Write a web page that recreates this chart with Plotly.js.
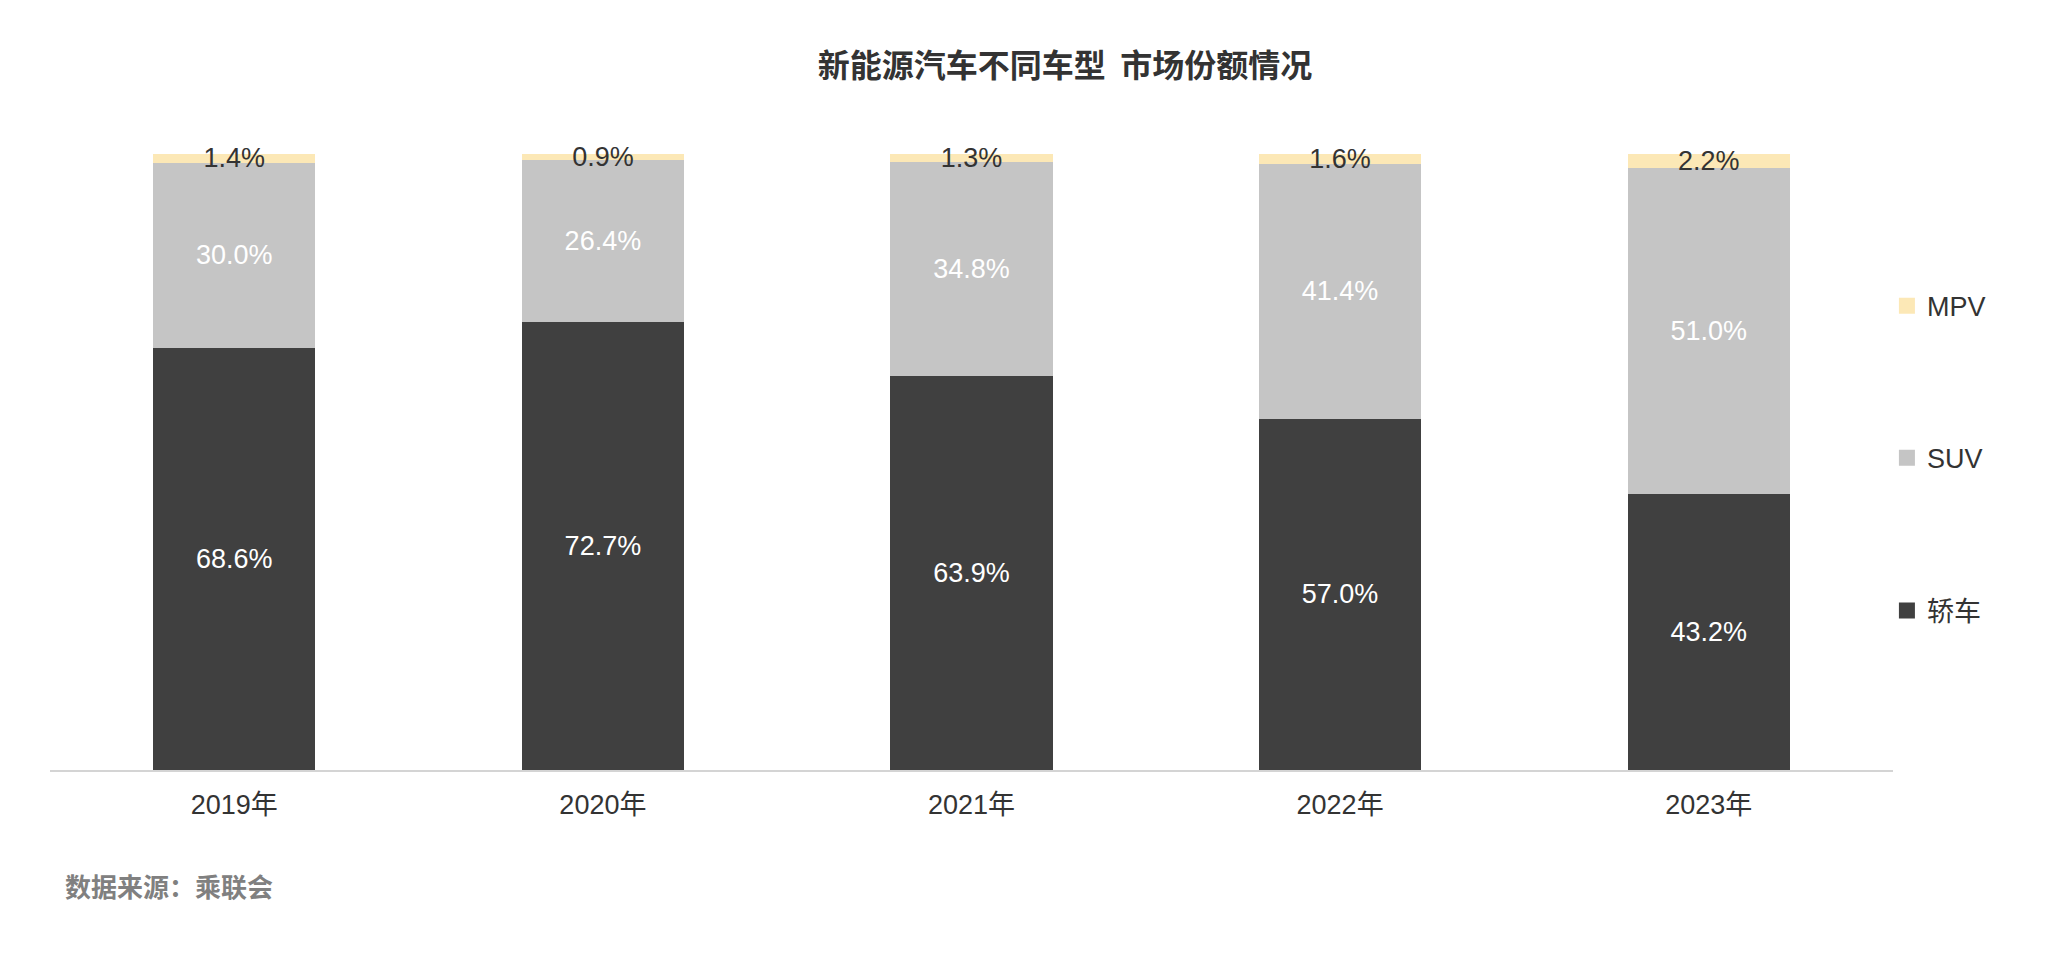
<!DOCTYPE html>
<html>
<head>
<meta charset="utf-8">
<script src="https://cdn.plot.ly/plotly-3.0.1.min.js"></script>
<style>html,body{margin:0;padding:0;background:#fff;}#chart{width:2048px;height:964px;}</style>
</head>
<body>
<div id="chart"></div>
<script>
const categories = ['2019年', '2020年', '2021年', '2022年', '2023年'];
const sedan = [68.6, 72.7, 63.9, 57.0, 43.2];
const suv = [30.0, 26.4, 34.8, 41.4, 51.0];
const mpv = [1.4, 0.9, 1.3, 1.6, 2.2];
const seriesNames = ['轿车', 'SUV', 'MPV'];

const FONT = '"Liberation Sans", Arial, "Noto Sans CJK SC", sans-serif';
const pct = arr => arr.map(v => v.toFixed(1) + '%');

function barTrace(name, vals, color, textColor, legendId) {
  return {
    type: 'bar', name: name, x: categories, y: vals,
    marker: {color: color, line: {width: 0}},
    text: pct(vals), texttemplate: '%{text}',
    textposition: 'inside', insidetextanchor: 'middle',
    constraintext: 'none', textangle: 0, cliponaxis: false,
    textfont: {family: FONT, size: 27, color: textColor},
    hoverinfo: 'skip', showlegend: false, legend: legendId
  };
}
function legendTrace(name, color, legendId) {
  return {
    type: 'scatter', mode: 'markers', name: name, x: [null], y: [null],
    marker: {symbol: 'square', size: 17, color: color},
    showlegend: true, legend: legendId, hoverinfo: 'skip'
  };
}

const colors = ['#404040', '#c5c5c5', '#fce8b6'];
const data = [
  barTrace(seriesNames[0], sedan, colors[0], '#ffffff', 'legend3'),
  barTrace(seriesNames[1], suv, colors[1], '#ffffff', 'legend2'),
  barTrace(seriesNames[2], mpv, colors[2], '#333333', 'legend'),
  legendTrace(seriesNames[2], colors[2], 'legend'),
  legendTrace(seriesNames[1], colors[1], 'legend2'),
  legendTrace(seriesNames[0], colors[0], 'legend3')
];

const legendBase = {
  x: 0.9967, xanchor: 'left', yanchor: 'middle',
  font: {family: FONT, size: 27, color: '#333333'},
  bgcolor: 'rgba(0,0,0,0)', itemwidth: 30
};

const layout = {
  width: 2048, height: 964,
  paper_bgcolor: '#ffffff', plot_bgcolor: '#ffffff',
  margin: {l: 50, r: 155, t: 154, b: 194, pad: 0},
  barmode: 'stack', barnorm: 'percent', bargap: 0.56,
  font: {family: FONT, color: '#333333'},
  title: {
    text: '<b>新能源汽车不同车型  市场份额情况</b>',
    font: {family: '"Noto Sans CJK SC", sans-serif', size: 32, color: '#333333'},
    xref: 'container', yref: 'container',
    x: 1065 / 2048, xanchor: 'center', y: 1 - 66 / 964, yanchor: 'middle'
  },
  xaxis: {
    type: 'category', showgrid: false, zeroline: false,
    showline: true, linecolor: '#d4d4d4', linewidth: 2,
    ticks: '', ticklabelstandoff: 10,
    tickfont: {family: FONT, size: 27, color: '#333333'},
    fixedrange: true
  },
  yaxis: {
    range: [0, 100.02], visible: false, showgrid: false, zeroline: false, fixedrange: true
  },
  showlegend: true,
  legend: Object.assign({}, legendBase, {y: 0.753}),
  legend2: Object.assign({}, legendBase, {y: 0.506}),
  legend3: Object.assign({}, legendBase, {y: 0.258}),
  annotations: [{
    text: '<b>数据来源：乘联会</b>', xref: 'paper', yref: 'paper',
    x: (63 - 50) / 1843, xanchor: 'left', y: (770 - 886) / 616, yanchor: 'middle',
    showarrow: false, font: {family: '"Noto Sans CJK SC", sans-serif', size: 26, color: '#808080'}
  }]
};

Plotly.newPlot('chart', data, layout, {displayModeBar: false, staticPlot: true});
</script>
</body>
</html>
